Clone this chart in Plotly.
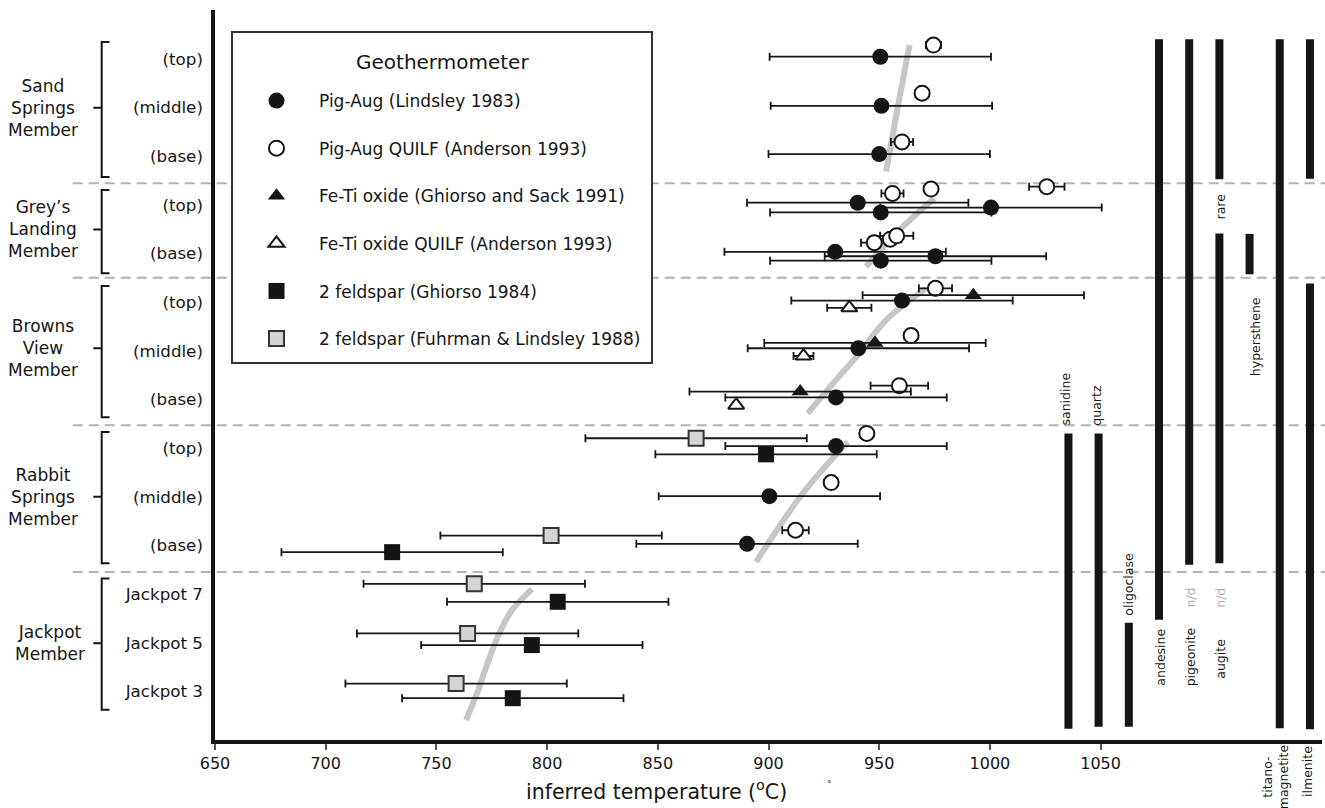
import plotly.graph_objects as go

# ---------------- data ----------------
row_labels = ["Jackpot 3", "Jackpot 5", "Jackpot 7",
              "(base)", "(middle)", "(top)",
              "(base)", "(middle)", "(top)",
              "(base)", "(top)",
              "(base)", "(middle)", "(top)"]
row_pos = [1, 2, 3, 4, 5, 6, 7, 8, 9, 10, 11, 12, 13, 14]

member_names = ["Jackpot<br>Member", "Rabbit<br>Springs<br>Member", "Browns<br>View<br>Member",
                "Grey’s<br>Landing<br>Member", "Sand<br>Springs<br>Member"]
member_top = [3.32, 6.33, 9.33, 11.30, 14.34]
member_bottom = [0.62, 3.63, 6.63, 9.59, 11.57]
member_mid = [1.99, 5.0, 8.05, 10.49, 12.99]
member_bounds = [3.45, 6.47, 9.5, 11.44]

# Pig-Aug (Lindsley 1983) - filled circles
pal_T = [950.5, 951, 950, 940.3, 950.7, 1000.5, 930.1, 975.4, 950.7, 960.3, 940.6, 930.5, 930.5, 900.4, 890.3]
pal_y = [14.04, 13.03, 12.04, 11.04, 10.84, 10.94, 10.03, 9.94, 9.85, 9.03, 8.05, 7.04, 6.04, 5.01, 4.03]
pal_err = [50, 50, 50, 50, 50, 50, 50, 50, 50, 50, 50, 50, 50, 50, 50]

# Pig-Aug QUILF (Anderson 1993) - open circles
paq_T = [974.5, 969.4, 960.3, 956, 973.4, 1025.7, 947.8, 955, 957.9, 975.4, 964.4, 959.1, 944.4, 928.3, 912.2]
paq_y = [14.28, 13.29, 12.29, 11.23, 11.32, 11.37, 10.22, 10.29, 10.36, 9.28, 8.31, 7.28, 6.30, 5.29, 4.31]
paq_err = [3.4, 3, 5, 5, 2, 8, 6, 5, 7.5, 7.5, 3, 13, 3, 3, 6]

# Fe-Ti oxide (Ghiorso and Sack 1991) - filled triangles
fts_T = [992.5, 948.1, 914.3]
fts_y = [9.14, 8.16, 7.16]
fts_err = [50, 50, 50]

# Fe-Ti oxide QUILF (Anderson 1993) - open triangles
ftq_T = [936.5, 915.8, 885.4]
ftq_y = [8.88, 7.89, 6.88]
ftq_err = [10, 4.5, 0]

# 2 feldspar (Ghiorso 1984) - black squares
fg_T = [898.9, 730.0, 804.8, 793.1, 784.5]
fg_y = [5.87, 3.86, 2.84, 1.95, 0.86]
fg_err = [50, 50, 50, 50, 50]

# 2 feldspar (Fuhrman & Lindsley 1988) - grey squares
ff_T = [867.3, 801.8, 767.1, 764.1, 758.9]
ff_y = [6.20, 4.20, 3.21, 2.19, 1.16]
ff_err = [50, 50, 50, 50, 50]

# trend curves per member
trend_T = [[963.7, 958.4, 953.1],
           [974.9, 957.6, 944.1],
           [971.2, 953.1, 941.1, 930.5, 917.7],
           [935.8, 915.5, 894.4],
           [793.2, 784.0, 777.5, 772.5, 768.5, 763.4]]
trend_y = [[14.28, 13.01, 11.68],
           [11.13, 10.41, 9.73],
           [9.28, 8.63, 7.95, 7.40, 6.71],
           [6.13, 5.07, 3.66],
           [3.10, 2.66, 2.10, 1.50, 0.98, 0.41]]

# mineral presence columns
minerals = ["sanidine", "quartz", "oligoclase", "andesine", "pigeonite", "augite",
            "hypersthene", "titanomagnetite", "ilmenite"]
mineral_segments = [[(6.30, 0.23)],
                    [(6.30, 0.27)],
                    [(2.41, 0.27)],
                    [(14.40, 2.47)],
                    [(14.40, 3.60)],
                    [(14.40, 11.52), (10.41, 3.63)],
                    [(10.40, 9.57)],
                    [(14.40, 0.24)],
                    [(14.40, 11.53), (9.38, 0.22)]]

x_ticks = [650, 700, 750, 800, 850, 900, 950, 1000, 1050]

# ---------------- figure ----------------
FONT = "DejaVu Sans"
INK = "#151515"
W, H = 1325, 808
L, R, T, B = 215, 3, 10, 68
PW = W - L - R
PH = H - T - B


def px_x(p):
    return (p - L) / PW


def px_y(p):
    return (H - B - p) / PH


fig = go.Figure()

# trend curves
for tx, ty in zip(trend_T, trend_y):
    fig.add_trace(go.Scatter(x=tx, y=ty, mode="lines", showlegend=False, hoverinfo="skip",
                             line=dict(color="#c6c6c6", width=6, shape="spline", smoothing=1.0)))

# mineral bars on a secondary x axis (column index)
mx, my = [], []
for i, segs in enumerate(mineral_segments):
    for (a, b) in segs:
        mx += [i, i, None]
        my += [a, b, None]
fig.add_trace(go.Scatter(x=mx, y=my, xaxis="x2", mode="lines", showlegend=False, hoverinfo="skip",
                         line=dict(color=INK, width=8)))

err_style = dict(type="data", color=INK, thickness=1.8, width=4)


def add_series(name, xs, ys, errs, marker, group):
    fig.add_trace(go.Scatter(
        x=xs, y=ys, mode="markers", name=name, legendgroup=group,
        error_x=dict(array=errs, **err_style),
        marker=marker))


add_series("Pig-Aug (Lindsley 1983)", pal_T, pal_y, pal_err,
           dict(symbol="circle", size=16, color=INK, line=dict(width=0)), "g1")
add_series("Pig-Aug QUILF (Anderson 1993)", paq_T, paq_y, paq_err,
           dict(symbol="circle", size=15, color="white", line=dict(width=2, color=INK)), "g2")
add_series("Fe-Ti oxide (Ghiorso and Sack 1991)", fts_T, fts_y, fts_err,
           dict(symbol="triangle-up", size=15, color=INK, line=dict(width=0)), "g3")
add_series("Fe-Ti oxide QUILF (Anderson 1993)", ftq_T, ftq_y, ftq_err,
           dict(symbol="triangle-up", size=14, color="white", line=dict(width=2, color=INK)), "g4")
add_series("2 feldspar (Ghiorso 1984)", fg_T, fg_y, fg_err,
           dict(symbol="square", size=16, color=INK, line=dict(width=0)), "g5")
add_series("2 feldspar (Fuhrman & Lindsley 1988)", ff_T, ff_y, ff_err,
           dict(symbol="square", size=15, color="#d4d4d4", line=dict(width=2, color="#333333")), "g6")

shapes = []
# dashed member boundaries
for yb in member_bounds:
    shapes.append(dict(type="line", xref="paper", yref="y", x0=px_x(72.7), x1=px_x(W + 2),
                       y0=yb, y1=yb, layer="below",
                       line=dict(color="#b3b3b3", width=2, dash="10px,6px")))
# brackets
xl, xr, xm = px_x(101.7), px_x(109.5), px_x(93.3)
for tp, bt, md in zip(member_top, member_bottom, member_mid):
    shapes.append(dict(type="path", xref="paper", yref="y",
                       path=f"M {xr},{tp} L {xl},{tp} L {xl},{bt} L {xr},{bt} M {xm},{md} L {xl},{md}",
                       line=dict(color=INK, width=2)))
# legend frame
shapes.append(dict(type="rect", xref="paper", yref="paper",
                   x0=px_x(232), x1=px_x(652), y0=px_y(32), y1=px_y(363),
                   fillcolor="white", line=dict(color="#333333", width=2), layer="above"))

annotations = []
for name, md in zip(member_names, member_mid):
    xc = 50 if name.startswith("Jackpot") else 43
    annotations.append(dict(text=name, xref="paper", yref="y", x=px_x(xc), y=md,
                            xanchor="center", yanchor="middle", showarrow=False,
                            font=dict(size=17, color=INK, family=FONT)))

mfont = dict(size=12.5, color=INK, family=FONT)
gfont = dict(size=12.5, color="#aaaaaa", family=FONT)
min_labels = [
    ("sanidine", -0.1, 6.42, "bottom", mfont),
    ("quartz", 0.9, 6.42, "bottom", mfont),
    ("oligoclase", 2.0, 2.52, "bottom", mfont),
    ("andesine", 3.05, 2.33, "top", mfont),
    ("pigeonite", 4.05, 2.36, "top", mfont),
    ("augite", 5.05, 2.12, "top", mfont),
    ("n/d", 4.05, 2.92, "middle", gfont),
    ("n/d", 5.05, 2.92, "middle", gfont),
    ("rare", 5.05, 10.96, "middle", mfont),
    ("hypersthene", 6.2, 8.29, "middle", mfont),
]
for txt, xx, yy, ya, fnt in min_labels:
    annotations.append(dict(text=txt, xref="x2", yref="y", x=xx, y=yy, textangle=-90,
                            xanchor="center", yanchor=ya, showarrow=False, font=fnt))
# labels below the axis (outside the y range)
for txt, xx, pyc in [("titano-<br>magnetite", 6.85, 777), ("ilmenite", 7.9, 771)]:
    annotations.append(dict(text=txt, xref="x2", yref="paper", x=xx, y=px_y(pyc), textangle=-90,
                            xanchor="center", yanchor="middle", showarrow=False, font=mfont))

annotations.append(dict(text="Geothermometer", xref="paper", yref="paper",
                        x=px_x(442), y=px_y(61.7), xanchor="center", yanchor="middle",
                        showarrow=False, font=dict(size=20, color=INK, family=FONT)))
annotations.append(dict(text="inferred temperature (<sup>o</sup>C)", xref="paper", yref="paper",
                        x=px_x(656), y=px_y(790), xanchor="center", yanchor="middle",
                        showarrow=False, font=dict(size=20.5, color=INK, family=FONT)))
annotations.append(dict(text="°", xref="paper", yref="paper", x=px_x(829), y=px_y(784),
                        xanchor="center", yanchor="middle", showarrow=False,
                        font=dict(size=9, color=INK, family=FONT)))

col_slope, col_int = 30.19, 1068.44
x2_range = [(L - col_int) / col_slope, (L + PW - col_int) / col_slope]

fig.update_layout(
    width=W, height=H,
    margin=dict(l=L, r=R, t=T, b=B, pad=0),
    paper_bgcolor="white", plot_bgcolor="white",
    font=dict(family=FONT, color=INK),
    showlegend=True,
    legend=dict(x=px_x(234), y=px_y(83), xanchor="left", yanchor="top",
                bgcolor="rgba(0,0,0,0)", borderwidth=0,
                font=dict(size=17, family=FONT, color=INK),
                tracegroupgap=22.5, itemwidth=75, itemclick=False),
    xaxis=dict(range=[650, 1150], tickvals=x_ticks, ticktext=[str(v) for v in x_ticks],
               showgrid=False, zeroline=False, showline=True, linewidth=3.5, linecolor=INK,
               ticks="outside", ticklen=6, tickwidth=1.5, tickcolor="#555555",
               tickfont=dict(size=16, family=FONT, color=INK)),
    xaxis2=dict(overlaying="x", range=x2_range, visible=False, showgrid=False, zeroline=False),
    yaxis=dict(range=[0, 15], tickvals=row_pos, ticktext=row_labels,
               showgrid=False, zeroline=False, showline=True, linewidth=3.5, linecolor=INK,
               ticks="", ticklabelstandoff=5,
               tickfont=dict(size=16.7, family=FONT, color=INK)),
    shapes=shapes,
    annotations=annotations,
)

fig.write_html("out.html")
